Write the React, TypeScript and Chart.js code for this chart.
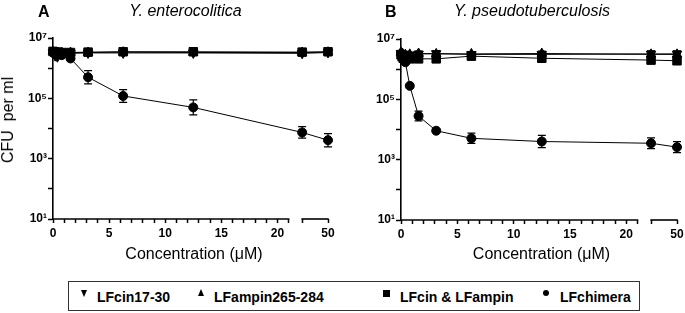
import React, { useEffect, useRef } from 'react';
import { Chart, registerables, LinearScale } from 'chart.js';

const FONT = '"Liberation Sans", Arial, Helvetica, sans-serif';

// ---------- data ----------
const concentrations = [0, 0.098, 0.195, 0.39, 0.78, 1.56, 3.125, 6.25, 12.5, 25, 50];
const seriesNames = ['LFcin17-30', 'LFampin265-284', 'LFcin & LFampin', 'LFchimera'];

// Panel A: Y. enterocolitica (CFU per ml)
const entLFcin = [3.4e6, 3.1e6, 2.6e6, 2.4e6, 3.0e6, 3.1e6, 3.2e6, 3.2e6, 3.2e6, 3.1e6, 3.3e6];
const entLFampin = [3.5e6, 3.3e6, 3.3e6, 3.2e6, 3.3e6, 3.3e6, 3.3e6, 3.4e6, 3.3e6, 3.3e6, 3.4e6];
const entCombo = [3.6e6, 3.5e6, 3.4e6, 3.4e6, 3.3e6, 3.3e6, 3.4e6, 3.5e6, 3.5e6, 3.4e6, 3.5e6];
const entChimera = [3.3e6, 3.2e6, 3.0e6, 2.9e6, 2.7e6, 2.1e6, 5.0e5, 1.2e5, 5.0e4, 7.4e3, 4.1e3];
// error (SD in log10 units)
const entLFcinErr = [0.04, 0.04, 0.04, 0.04, 0.04, 0.04, 0.04, 0.04, 0.04, 0.04, 0.04];
const entLFampinErr = [0.04, 0.04, 0.04, 0.04, 0.04, 0.04, 0.04, 0.04, 0.04, 0.04, 0.04];
const entComboErr = [0.04, 0.04, 0.04, 0.04, 0.04, 0.04, 0.04, 0.04, 0.04, 0.04, 0.04];
const entChimeraErr = [0.03, 0.03, 0.03, 0.03, 0.03, 0.04, 0.22, 0.21, 0.25, 0.19, 0.22];

// Panel B: Y. pseudotuberculosis (CFU per ml)
const psLFcin = [3.4e6, 3.0e6, 3.2e6, 3.1e6, 3.0e6, 3.2e6, 3.3e6, 3.1e6, 3.1e6, 3.2e6, 3.2e6];
const psLFampin = [3.6e6, 3.3e6, 3.1e6, 3.0e6, 3.1e6, 3.3e6, 3.2e6, 3.2e6, 3.3e6, 3.1e6, 3.1e6];
const psCombo = [3.0e6, 2.6e6, 2.3e6, 2.2e6, 2.2e6, 2.2e6, 2.2e6, 2.7e6, 2.3e6, 2.0e6, 1.9e6];
const psChimera = [3.2e6, 2.8e6, 2.3e6, 1.7e6, 2.8e5, 2.8e4, 9.1e3, 5.1e3, 4.0e3, 3.5e3, 2.6e3];
const psLFcinErr = [0.05, 0.05, 0.05, 0.05, 0.05, 0.08, 0.1, 0.08, 0.08, 0.1, 0.1];
const psLFampinErr = [0.05, 0.05, 0.05, 0.05, 0.05, 0.08, 0.1, 0.08, 0.08, 0.1, 0.1];
const psComboErr = [0.05, 0.05, 0.05, 0.05, 0.05, 0.06, 0.12, 0.06, 0.06, 0.12, 0.12];
const psChimeraErr = [0.03, 0.03, 0.03, 0.05, 0.05, 0.16, 0.05, 0.17, 0.2, 0.18, 0.18];

// axis ticks
const xTickValues = [0, 1, 2, 3, 4, 5, 6, 7, 8, 9, 10, 11, 12, 13, 14, 15, 16, 17, 18, 19, 20, 21, 25, 50];
const xTickLabels = [0, 5, 10, 15, 20, 50];
const xSegments = [[0, 21], [25, 50]];
const yTickValues = [1e1, 1e2, 1e3, 1e4, 1e5, 1e6, 1e7];
const yLabelExponents = [1, 3, 5, 7];

// ---------- broken x scale ----------
// value -> fraction of the axis length (first segment 0..21, gap, second segment 25..50)
const X_BREAK_MAP = [[0, 0], [21, 0.857], [25, 0.906], [50, 1]];

function toFrac(v: number) {
  const m = X_BREAK_MAP;
  for (let i = 1; i < m.length; i++) {
    if (v <= m[i][0] || i === m.length - 1) {
      const [v0, f0] = m[i - 1];
      const [v1, f1] = m[i];
      return f0 + ((v - v0) * (f1 - f0)) / (v1 - v0);
    }
  }
  return 1;
}
function fromFrac(d: number) {
  const m = X_BREAK_MAP;
  for (let i = 1; i < m.length; i++) {
    if (d <= m[i][1] || i === m.length - 1) {
      const [v0, f0] = m[i - 1];
      const [v1, f1] = m[i];
      return v0 + ((d - f0) * (v1 - v0)) / (f1 - f0);
    }
  }
  return 50;
}

class BrokenLinearScale extends LinearScale {
  static id = 'brokenLinear';
  static defaults = LinearScale.defaults;
  getPixelForValue(value: any) {
    if (value === null || value === undefined || Number.isNaN(+value)) return NaN;
    return this.getPixelForDecimal(toFrac(+value));
  }
  getValueForPixel(pixel: number) {
    return fromFrac(this.getDecimalForPixel(pixel));
  }
}

Chart.register(...registerables, BrokenLinearScale);

const SUP: Record<number, string> = { 1: '¹', 2: '²', 3: '³', 4: '⁴', 5: '⁵', 6: '⁶', 7: '⁷' };

const STYLES = [
  { style: 'triangle', rotation: 180, radius: 5.5, order: 3 },
  { style: 'triangle', rotation: 0, radius: 5.5, order: 2 },
  { style: 'rect', rotation: 0, radius: 6, order: 0 },
  { style: 'circle', rotation: 0, radius: 4.5, order: 1 },
];

const errorBarPlugin = {
  id: 'errorBars',
  beforeDatasetsDraw(chart: any) {
    const { ctx } = chart;
    const xs = chart.scales.x;
    const ys = chart.scales.y;
    ctx.save();
    ctx.strokeStyle = '#000';
    ctx.lineWidth = 1.2;
    chart.data.datasets.forEach((ds: any) => {
      const errs = ds.logErr;
      if (!errs) return;
      ds.data.forEach((p: any, i: number) => {
        const e = errs[i];
        if (!e) return;
        const px = xs.getPixelForValue(p.x);
        const yHi = ys.getPixelForValue(p.y * Math.pow(10, e));
        const yLo = ys.getPixelForValue(p.y / Math.pow(10, e));
        const cap = 4;
        ctx.beginPath();
        ctx.moveTo(px, yHi);
        ctx.lineTo(px, yLo);
        ctx.moveTo(px - cap, yHi);
        ctx.lineTo(px + cap, yHi);
        ctx.moveTo(px - cap, yLo);
        ctx.lineTo(px + cap, yLo);
        ctx.stroke();
      });
    });
    ctx.restore();
  },
};

const brokenAxisPlugin = {
  id: 'brokenAxisLine',
  beforeDatasetsDraw(chart: any) {
    const { ctx } = chart;
    const xs = chart.scales.x;
    const y = xs.top;
    ctx.save();
    ctx.strokeStyle = '#000';
    ctx.lineWidth = 1.6;
    xSegments.forEach(([a, b], k) => {
      ctx.beginPath();
      ctx.moveTo(xs.getPixelForValue(a) - (k === 0 ? 0.8 : 0.75), y);
      ctx.lineTo(xs.getPixelForValue(b) + 0.75, y);
      ctx.stroke();
    });
    ctx.restore();
  },
};

function makeConfig(values: number[][], errs: number[][], yWidth: number, padRight: number, areaTop: number, areaBottom: number, canvasH: number): any {
  const tickFont = { family: FONT, size: 12, weight: 'bold' };
  return {
    type: 'line',
    data: {
      datasets: seriesNames.map((name, k) => ({
        label: name,
        data: concentrations.map((c, i) => ({ x: c, y: values[k][i] })),
        logErr: errs[k],
        borderColor: '#000',
        backgroundColor: '#000',
        borderWidth: 1,
        pointStyle: STYLES[k].style,
        pointRotation: STYLES[k].rotation,
        pointRadius: STYLES[k].radius,
        pointBorderWidth: 1,
        pointBorderColor: '#000',
        pointBackgroundColor: '#000',
        order: STYLES[k].order,
        clip: false,
        tension: 0,
      })),
    },
    options: {
      animation: false,
      responsive: false,
      devicePixelRatio: 1,
      events: [],
      layout: { padding: { left: 0, right: padRight, top: areaTop, bottom: 0 } },
      plugins: { legend: { display: false }, tooltip: { enabled: false }, title: { display: false } },
      scales: {
        x: {
          type: 'brokenLinear',
          min: 0,
          max: 50,
          afterBuildTicks: (s: any) => {
            s.ticks = xTickValues.map((v) => ({ value: v }));
          },
          afterFit: (s: any) => {
            s.height = canvasH - areaBottom;
          },
          border: { display: false },
          grid: { display: true, drawOnChartArea: false, drawTicks: true, tickLength: 4, tickWidth: 1.5, tickColor: '#000', color: '#000' },
          ticks: {
            autoSkip: false,
            maxRotation: 0,
            minRotation: 0,
            padding: 3,
            color: '#000',
            font: tickFont,
            callback: (v: any) => (xTickLabels.includes(v) ? String(v) : ''),
          },
        },
        y: {
          type: 'logarithmic',
          min: 10,
          max: 1e7,
          afterBuildTicks: (s: any) => {
            s.ticks = yTickValues.map((v) => ({ value: v }));
          },
          afterFit: (s: any) => {
            s.width = yWidth;
          },
          border: { display: true, color: '#000', width: 1.6 },
          grid: { display: true, drawOnChartArea: false, drawTicks: true, tickLength: 5, tickWidth: 1.5, tickColor: '#000', color: '#000' },
          ticks: {
            autoSkip: false,
            padding: 1,
            color: '#000',
            font: tickFont,
            callback: (v: any) => {
              const e = Math.round(Math.log10(v));
              return yLabelExponents.includes(e) ? '10' + SUP[e] : '';
            },
          },
        },
      },
    },
    plugins: [errorBarPlugin, brokenAxisPlugin],
  };
}

const abs = (s: React.CSSProperties): React.CSSProperties => ({ position: 'absolute', whiteSpace: 'pre', ...s });

export default function App() {
  const refA = useRef<HTMLCanvasElement | null>(null);
  const refB = useRef<HTMLCanvasElement | null>(null);

  useEffect(() => {
    const a = new Chart(
      refA.current as HTMLCanvasElement,
      makeConfig(
        [entLFcin, entLFampin, entCombo, entChimera],
        [entLFcinErr, entLFampinErr, entComboErr, entChimeraErr],
        53, 14, 38, 219, 275
      )
    );
    const b = new Chart(
      refB.current as HTMLCanvasElement,
      makeConfig(
        [psLFcin, psLFampin, psCombo, psChimera],
        [psLFcinErr, psLFampinErr, psComboErr, psChimeraErr],
        59, 18, 39, 220, 275
      )
    );
    return () => {
      a.destroy();
      b.destroy();
    };
  }, []);

  const titleFont: React.CSSProperties = { fontFamily: FONT, fontSize: 16, lineHeight: '16px', color: '#000' };
  const legendText: React.CSSProperties = { fontFamily: FONT, fontSize: 14, lineHeight: '14px', fontWeight: 'bold', color: '#000' };

  return (
    <div style={{ position: 'absolute', left: 0, top: 0, width: 685, height: 313, overflow: 'hidden', background: '#fff' }}>
      <canvas ref={refA} width={342} height={275} style={{ position: 'absolute', left: 0, top: 0 }} />
      <canvas ref={refB} width={353} height={275} style={{ position: 'absolute', left: 342, top: 0 }} />

      <div style={abs({ ...titleFont, fontWeight: 'bold', left: 38, top: 4 })}>A</div>
      <div style={abs({ ...titleFont, fontStyle: 'italic', left: 185.5, top: 3, transform: 'translateX(-50%)' })}>Y. enterocolitica</div>
      <div style={abs({ ...titleFont, fontWeight: 'bold', left: 385, top: 4 })}>B</div>
      <div style={abs({ ...titleFont, fontStyle: 'italic', left: 532, top: 3, transform: 'translateX(-50%)' })}>Y. pseudotuberculosis</div>

      <div style={abs({ ...titleFont, left: 8, top: 120, transform: 'translate(-50%, -50%) rotate(-90deg)' })}>CFU  per ml</div>
      <div style={abs({ ...titleFont, left: 194, top: 246, transform: 'translateX(-50%)' })}>Concentration (μM)</div>
      <div style={abs({ ...titleFont, left: 541.5, top: 246, transform: 'translateX(-50%)' })}>Concentration (μM)</div>

      <div style={abs({ left: 68, top: 281, width: 572, height: 30, border: '1.5px solid #333', boxSizing: 'border-box' })} />
      <div style={abs({ left: 80.5, top: 290, width: 0, height: 0, borderLeft: '3.5px solid transparent', borderRight: '3.5px solid transparent', borderTop: '7px solid #000' })} />
      <div style={abs({ ...legendText, left: 97, top: 290 })}>{seriesNames[0]}</div>
      <div style={abs({ left: 197.5, top: 289, width: 0, height: 0, borderLeft: '3.5px solid transparent', borderRight: '3.5px solid transparent', borderBottom: '7px solid #000' })} />
      <div style={abs({ ...legendText, left: 214, top: 290 })}>{seriesNames[1]}</div>
      <div style={abs({ left: 382.5, top: 290, width: 7, height: 7, background: '#000' })} />
      <div style={abs({ ...legendText, left: 400, top: 290 })}>{seriesNames[2]}</div>
      <div style={abs({ left: 543, top: 289.5, width: 6, height: 6, borderRadius: '50%', background: '#000' })} />
      <div style={abs({ ...legendText, left: 560, top: 290 })}>{seriesNames[3]}</div>
    </div>
  );
}
